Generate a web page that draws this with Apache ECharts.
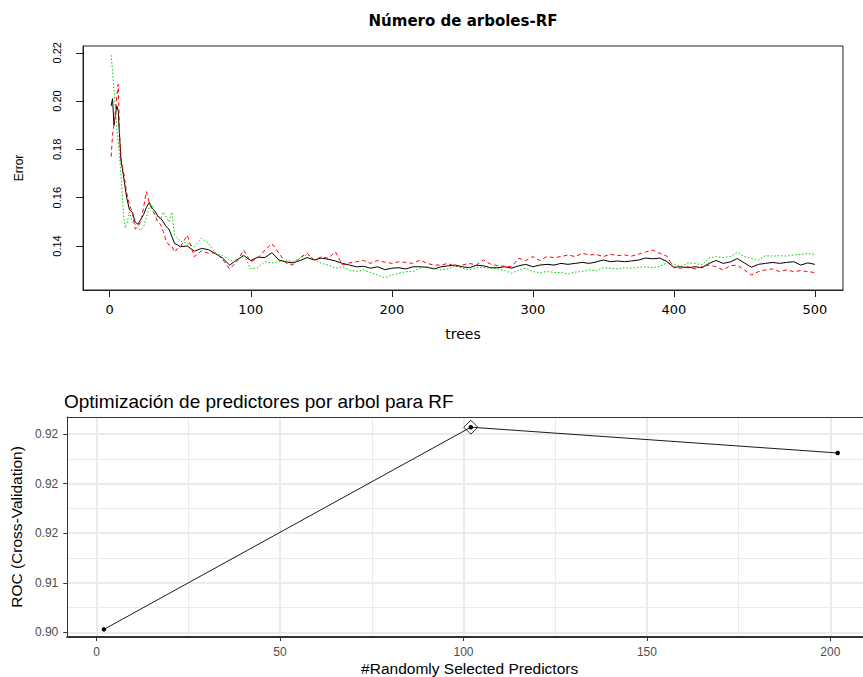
<!DOCTYPE html>
<html>
<head>
<meta charset="utf-8">
<script src="https://cdn.jsdelivr.net/npm/echarts@6/dist/echarts.min.js"></script>
<style>
  html, body { margin: 0; padding: 0; background: #fff; }
  #chart { width: 863px; height: 677px; }
</style>
</head>
<body>
<div id="chart"></div>
<script>
// ---- Random forest error by number of trees ----
const trees = [1,2,3,4,5,6,7,8,9,10,11,12,
  14,16,18,20,22,24,26,28,30,32,34,36,38,40,42,44,46,48,50,
  55,60,65,70,75,80,85,90,95,100,105,110,115,120,125,130,135,140,145,150,
  155,160,165,170,175,180,185,190,195,200,205,210,215,220,225,230,235,240,245,250,
  255,260,265,270,275,280,285,290,295,300,305,310,315,320,325,330,335,340,345,350,
  355,360,365,370,375,380,385,390,395,400,405,410,415,420,425,430,435,440,445,450,
  455,460,465,470,475,480,485,490,495,500];

// OOB error (black, solid)
const oobError = [0.198,0.201,0.190,0.194,0.198,0.196,0.185,0.175,0.172,0.168,0.164,0.160,
  0.155,0.154,0.150,0.149,0.151,0.153,0.156,0.158,0.1556,0.1545,0.1525,0.1515,0.150,0.148,0.147,0.144,0.141,0.1405,0.1397,
  0.1400,0.1378,0.1390,0.1385,0.1368,0.1350,0.1321,0.1342,0.1360,0.1340,
  0.1354,0.1352,0.1372,0.1342,0.1334,0.1330,0.1340,0.1352,0.1342,0.1350,
  0.1345,0.1338,0.1328,0.1321,0.1314,0.1316,0.1308,0.1314,0.1302,0.1308,
  0.1310,0.1305,0.1314,0.1314,0.1312,0.1305,0.1314,0.1318,0.1321,0.1314,
  0.1310,0.1320,0.1318,0.1310,0.1310,0.1314,0.1308,0.1318,0.1324,0.1314,
  0.1321,0.1324,0.1321,0.1328,0.1324,0.1328,0.1332,0.1328,0.1334,0.1342,
  0.1335,0.1338,0.1335,0.1338,0.1342,0.1350,0.1347,0.1350,0.1336,0.1312,
  0.1314,0.1310,0.1314,0.1310,0.1328,0.1340,0.1328,0.1334,0.1348,0.1330,
  0.1312,0.1324,0.1328,0.1332,0.1328,0.1332,0.1335,0.1321,0.1330,0.1324];

// Class error, first class (red, dashed)
const classAError = [0.177,0.186,0.190,0.196,0.202,0.207,0.186,0.177,0.173,0.170,0.166,0.162,
  0.157,0.154,0.147,0.148,0.150,0.156,0.1625,0.158,0.155,0.153,0.150,0.149,0.146,0.142,0.1404,0.140,0.1375,0.139,0.1395,
  0.1445,0.1356,0.1380,0.1370,0.1372,0.1345,0.1305,0.1335,0.1383,0.1335,
  0.1350,0.1383,0.1410,0.1370,0.1330,0.1321,0.1352,0.1370,0.1342,0.1355,
  0.1349,0.1376,0.1321,0.1330,0.1335,0.1340,0.1328,0.1340,0.1333,0.1328,
  0.1335,0.1332,0.1328,0.1342,0.1328,0.1321,0.1321,0.1328,0.1314,0.1321,
  0.1328,0.1321,0.1342,0.1325,0.1318,0.1316,0.1314,0.1349,0.1340,0.1356,
  0.1340,0.1356,0.1352,0.1356,0.1363,0.1356,0.1370,0.1363,0.1365,0.1356,
  0.1366,0.1360,0.1363,0.1358,0.1366,0.1375,0.1383,0.1370,0.1358,0.1310,
  0.1308,0.1314,0.1305,0.1314,0.1321,0.1314,0.1301,0.1318,0.1321,0.1301,
  0.1280,0.1294,0.1301,0.1305,0.1294,0.1301,0.1294,0.1298,0.1294,0.1290];

// Class error, second class (green, dotted)
const classBError = [0.219,0.212,0.205,0.197,0.189,0.183,0.177,0.169,0.160,0.152,0.1475,0.149,
  0.154,0.150,0.149,0.147,0.1466,0.148,0.152,0.156,0.157,0.154,0.152,0.151,0.154,0.152,0.150,0.154,0.1445,0.1432,0.1420,
  0.1410,0.1397,0.1432,0.1410,0.1370,0.1360,0.1342,0.1335,0.1365,0.1305,
  0.1310,0.1335,0.1330,0.1335,0.1342,0.1335,0.1350,0.1365,0.1345,0.1328,
  0.1321,0.1308,0.1314,0.1301,0.1294,0.1301,0.1290,0.1280,0.1268,0.1280,
  0.1287,0.1294,0.1294,0.1308,0.1314,0.1308,0.1301,0.1305,0.1318,0.1308,
  0.1301,0.1310,0.1312,0.1308,0.1306,0.1298,0.1287,0.1301,0.1308,0.1294,
  0.1290,0.1294,0.1291,0.1290,0.1284,0.1292,0.1294,0.1301,0.1298,0.1310,
  0.1308,0.1305,0.1310,0.1308,0.1312,0.1314,0.1310,0.1316,0.1330,0.1325,
  0.1315,0.1330,0.1328,0.1322,0.1350,0.1356,0.1352,0.1356,0.1374,0.1356,
  0.1349,0.1342,0.1360,0.1358,0.1360,0.1358,0.1363,0.1365,0.1370,0.1365];

const treeTicks = [0, 100, 200, 300, 400, 500];
const errorTicks = [0.14, 0.16, 0.18, 0.20, 0.22];

// ---- ROC by number of randomly selected predictors (mtry) ----
const mtryValues = [2, 102, 202];
const rocValues = [0.9053, 0.9257, 0.9231];
const mtryTicks = [0, 50, 100, 150, 200];
const mtryMinorTicks = [25, 75, 125, 175];
const rocTicks = [0.905, 0.910, 0.915, 0.920, 0.925];
const rocTickLabels = ['0.90', '0.91', '0.92', '0.92', '0.92'];
const rocMinorTicks = [0.9075, 0.9125, 0.9175, 0.9225];

const zip = (xs, ys) => xs.map((x, i) => [x, ys[i]]);
const bestIdx = rocValues.indexOf(Math.max(...rocValues));
const rocLabel = v => {
  let k = 0;
  rocTicks.forEach((t, i) => { if (Math.abs(t - v) < Math.abs(rocTicks[k] - v)) k = i; });
  return rocTickLabels[k];
};

const chart = echarts.init(document.getElementById('chart'), null, { renderer: 'svg' });

// axis used only to draw the thinner (minor) grid lines of the lower panel
const gridLineAxis = (gridIndex, min, max, ticks, extra) => Object.assign({
  gridIndex, type: 'value', min, max,
  axisLine: { show: false },
  axisLabel: { show: false },
  axisTick: { show: false, customValues: ticks },
  splitLine: { show: true, lineStyle: { color: '#EBEBEB', width: 1 } }
}, extra || {});

// the lower panel runs past the right edge of the page: x from -8 to 212
const mtryMin = -8;
const mtryMaxVisible = 208.9;

chart.setOption({
  animation: false,
  backgroundColor: '#fff',
  textStyle: { fontFamily: 'Liberation Sans' },
  title: [
    {
      text: 'Número de arboles-RF', left: 463, top: 13, textAlign: 'center', padding: 0,
      textStyle: { fontFamily: 'DejaVu Sans', fontWeight: 'bold', fontSize: 15, color: '#000' }
    },
    {
      text: 'Optimización de predictores por arbol para RF', left: 64, top: 392, padding: 0,
      textStyle: { fontFamily: 'Liberation Sans', fontWeight: 'normal', fontSize: 19, color: '#000' }
    }
  ],
  grid: [
    { left: 83, top: 46, width: 760, height: 244, show: true, borderColor: '#222', borderWidth: 1, backgroundColor: '#fff' },
    { left: 64, top: 417, right: 0, height: 220, show: false }
  ],
  xAxis: [
    {
      gridIndex: 0, type: 'value', min: -18.96, max: 519.96,
      name: 'trees', nameLocation: 'middle', nameGap: 37,
      nameTextStyle: { fontFamily: 'DejaVu Sans', fontSize: 14, color: '#000' },
      axisLine: { show: true, onZero: false, lineStyle: { color: '#222', width: 1 } },
      axisTick: { show: true, inside: false, length: 7, customValues: treeTicks, lineStyle: { color: '#222' } },
      axisLabel: { customValues: treeTicks, margin: 13, fontFamily: 'DejaVu Sans', fontSize: 13, color: '#000' },
      splitLine: { show: false }
    },
    {
      gridIndex: 1, type: 'value', min: mtryMin, max: mtryMaxVisible, position: 'bottom',
      name: '#Randomly Selected Predictors', nameLocation: 'middle', nameGap: 23,
      nameTextStyle: { fontFamily: 'Liberation Sans', fontSize: 15.5, color: '#000', padding: [0, 0, 0, 9] },
      axisLine: { show: true, onZero: false, lineStyle: { color: '#333', width: 2 } },
      axisTick: { show: true, length: 4, customValues: mtryTicks, lineStyle: { color: '#333' } },
      axisLabel: { customValues: mtryTicks, margin: 9, fontSize: 12, color: '#4D4D4D' },
      splitLine: { show: true, lineStyle: { color: '#EBEBEB', width: 2 } }
    },
    gridLineAxis(1, mtryMin, mtryMaxVisible, mtryMinorTicks, {
      position: 'top',
      axisLine: { show: true, onZero: false, lineStyle: { color: '#333', width: 1 } }
    })
  ],
  yAxis: [
    {
      gridIndex: 0, type: 'value', min: 0.12178, max: 0.2228,
      name: 'Error', nameLocation: 'middle', nameGap: 58, nameRotate: 90,
      nameTextStyle: { fontFamily: 'Liberation Sans', fontSize: 12, color: '#000' },
      axisLine: { show: true, onZero: false, lineStyle: { color: '#222', width: 1 } },
      axisTick: { show: true, inside: false, length: 7, customValues: errorTicks, lineStyle: { color: '#222' } },
      axisLabel: { customValues: errorTicks, rotate: 90, margin: 21, fontSize: 11, color: '#000',
                   formatter: v => v.toFixed(2) },
      splitLine: { show: false }
    },
    {
      gridIndex: 1, type: 'value', min: 0.90453, max: 0.92673,
      name: 'ROC (Cross-Validation)', nameLocation: 'middle', nameGap: 34, nameRotate: 90,
      nameTextStyle: { fontFamily: 'Liberation Sans', fontSize: 15.5, color: '#000' },
      axisLine: { show: true, onZero: false, lineStyle: { color: '#333', width: 1 } },
      axisTick: { show: true, length: 4, customValues: rocTicks, lineStyle: { color: '#333' } },
      axisLabel: { customValues: rocTicks, margin: 9, fontSize: 12, color: '#4D4D4D', formatter: rocLabel },
      splitLine: { show: true, lineStyle: { color: '#EBEBEB', width: 2 } }
    },
    gridLineAxis(1, 0.90453, 0.92673, rocMinorTicks)
  ],
  series: [
    {
      name: 'OOB', type: 'line', xAxisIndex: 0, yAxisIndex: 0, data: zip(trees, oobError),
      symbol: 'none', silent: true, z: 3,
      lineStyle: { color: '#000', width: 1 }
    },
    {
      name: 'A', type: 'line', xAxisIndex: 0, yAxisIndex: 0, data: zip(trees, classAError),
      symbol: 'none', silent: true, z: 4,
      lineStyle: { color: '#FF0000', width: 1, type: [4, 3] }
    },
    {
      name: 'B', type: 'line', xAxisIndex: 0, yAxisIndex: 0, data: zip(trees, classBError),
      symbol: 'none', silent: true, z: 5,
      lineStyle: { color: '#00CD00', width: 1, type: [1.5, 2] }
    },
    {
      name: 'ROC', type: 'line', xAxisIndex: 1, yAxisIndex: 1, data: zip(mtryValues, rocValues),
      symbol: 'circle', symbolSize: 4.5, showSymbol: true, silent: true, z: 3,
      itemStyle: { color: '#000' },
      lineStyle: { color: '#000', width: 0.9 }
    },
    {
      name: 'Best', type: 'scatter', xAxisIndex: 1, yAxisIndex: 1,
      data: [[mtryValues[bestIdx], rocValues[bestIdx]]],
      symbol: 'diamond', symbolSize: [14, 14], silent: true, z: 4,
      itemStyle: { color: 'rgba(0,0,0,0)', borderColor: '#000', borderWidth: 1 }
    }
  ]
});
</script>
</body>
</html>
